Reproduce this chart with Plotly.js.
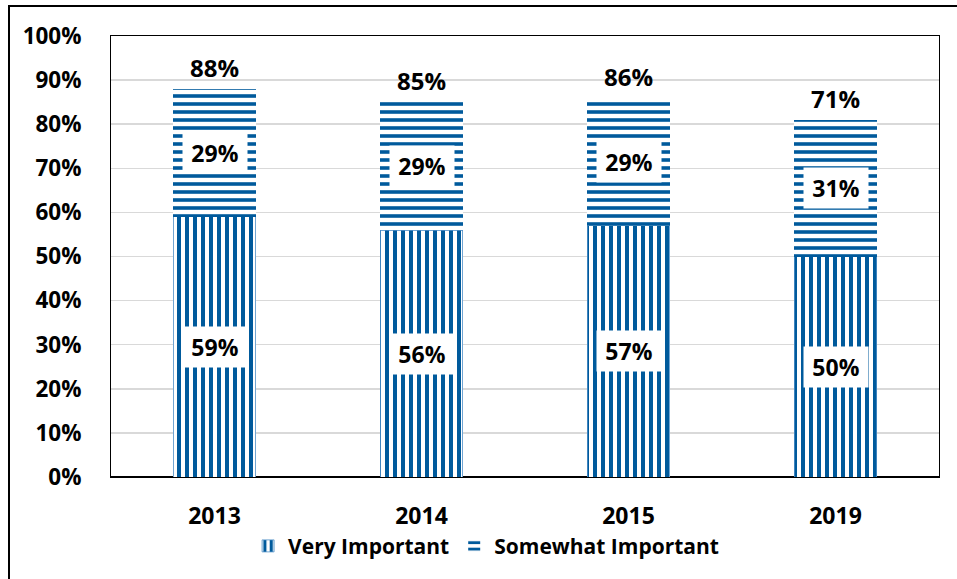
<!DOCTYPE html>
<html>
<head>
<meta charset="utf-8">
<script src="https://cdn.plot.ly/plotly-3.0.1.min.js"></script>
<style>
  html, body { margin: 0; padding: 0; background: #fff; }
  #wrap { position: relative; width: 957px; height: 579px; overflow: hidden; }
  #chart { position: absolute; left: 0; top: 0; width: 957px; height: 579px; }
  #frame { position: absolute; left: 8px; top: 5px; width: 1000px; height: 700px;
           border-left: 2px solid #000; border-top: 2px solid #000; pointer-events: none; }
</style>
</head>
<body>
<div id="wrap">
  <div id="chart"></div>
  <div id="frame"></div>
</div>
<script>
const years = ["2013", "2014", "2015", "2019"];
const veryImportant = [59, 56, 57, 50];
const somewhatImportant = [29, 29, 29, 31];
const totalLabels = ["88%", "85%", "86%", "71%"];
const yTicks = [0, 10, 20, 30, 40, 50, 60, 70, 80, 90, 100];

const BLUE = "#005A9C";
const FONT = "Open Sans";

const traces = [
  {
    type: "bar", name: "Very Important", x: years, y: veryImportant,
    marker: {
      color: BLUE,
      line: { color: "#4f8fc7", width: 0.8 },
      pattern: { shape: "|", fgcolor: BLUE, bgcolor: "#ffffff", size: 8, solidity: 0.5, fillmode: "replace" }
    },
    hoverinfo: "skip"
  },
  {
    type: "bar", name: "Somewhat Important", x: years, y: somewhatImportant,
    marker: {
      color: BLUE,
      line: { width: 0 },
      pattern: { shape: "-", fgcolor: BLUE, bgcolor: "#ffffff", size: 8, solidity: 0.45, fillmode: "replace" }
    },
    hoverinfo: "skip"
  }
];

const annotations = [];
years.forEach((yr, i) => {
  annotations.push({
    x: i, y: veryImportant[i] / 2, xref: "x", yref: "y",
    text: veryImportant[i] + "%", showarrow: false,
    bgcolor: "#ffffff", borderpad: 4, width: 56,
    font: { family: FONT, size: 23, color: "#000", weight: "bold" }
  });
  annotations.push({
    x: i, y: veryImportant[i] + somewhatImportant[i] / 2, xref: "x", yref: "y",
    text: somewhatImportant[i] + "%", showarrow: false,
    bgcolor: "#ffffff", borderpad: 4, width: 56,
    font: { family: FONT, size: 23, color: "#000", weight: "bold" }
  });
  annotations.push({
    x: i, y: veryImportant[i] + somewhatImportant[i], xref: "x", yref: "y",
    text: totalLabels[i], showarrow: false, yanchor: "bottom", yshift: 3,
    font: { family: FONT, size: 24, color: "#000", weight: "bold" }
  });
});

const layout = {
  width: 957, height: 579,
  margin: { l: 111, r: 18, t: 36, b: 97 },
  paper_bgcolor: "rgba(0,0,0,0)",
  plot_bgcolor: "#ffffff",
  barmode: "stack",
  bargap: 0.6,
  showlegend: true,
  legend: {
    orientation: "h", x: 0.453, xanchor: "center", y: -0.157, yanchor: "middle",
    font: { family: FONT, size: 21, color: "#000", weight: "bold" },
    traceorder: "normal", itemwidth: 30
  },
  xaxis: {
    type: "category", range: [-0.5, years.length - 0.5], autorange: false,
    showline: true, mirror: true, linecolor: "#000", linewidth: 1,
    showgrid: false, ticks: "", ticklabelstandoff: 18,
    tickfont: { family: FONT, size: 23, color: "#000", weight: "bold" }
  },
  yaxis: {
    range: [0, 100], autorange: false, tickvals: yTicks, ticktext: yTicks.map(v => v + "%"),
    showline: true, mirror: true, linecolor: "#000", linewidth: 1,
    showgrid: true, gridcolor: "#d9d9d9", gridwidth: 1.5,
    zeroline: true, zerolinecolor: "#000", zerolinewidth: 2.5,
    ticks: "", ticklabelstandoff: 24,
    tickfont: { family: FONT, size: 22.5, color: "#000", weight: "bold" }
  },
  annotations: annotations
};

Plotly.newPlot("chart", traces, layout, { displayModeBar: false, staticPlot: true });
</script>
</body>
</html>
